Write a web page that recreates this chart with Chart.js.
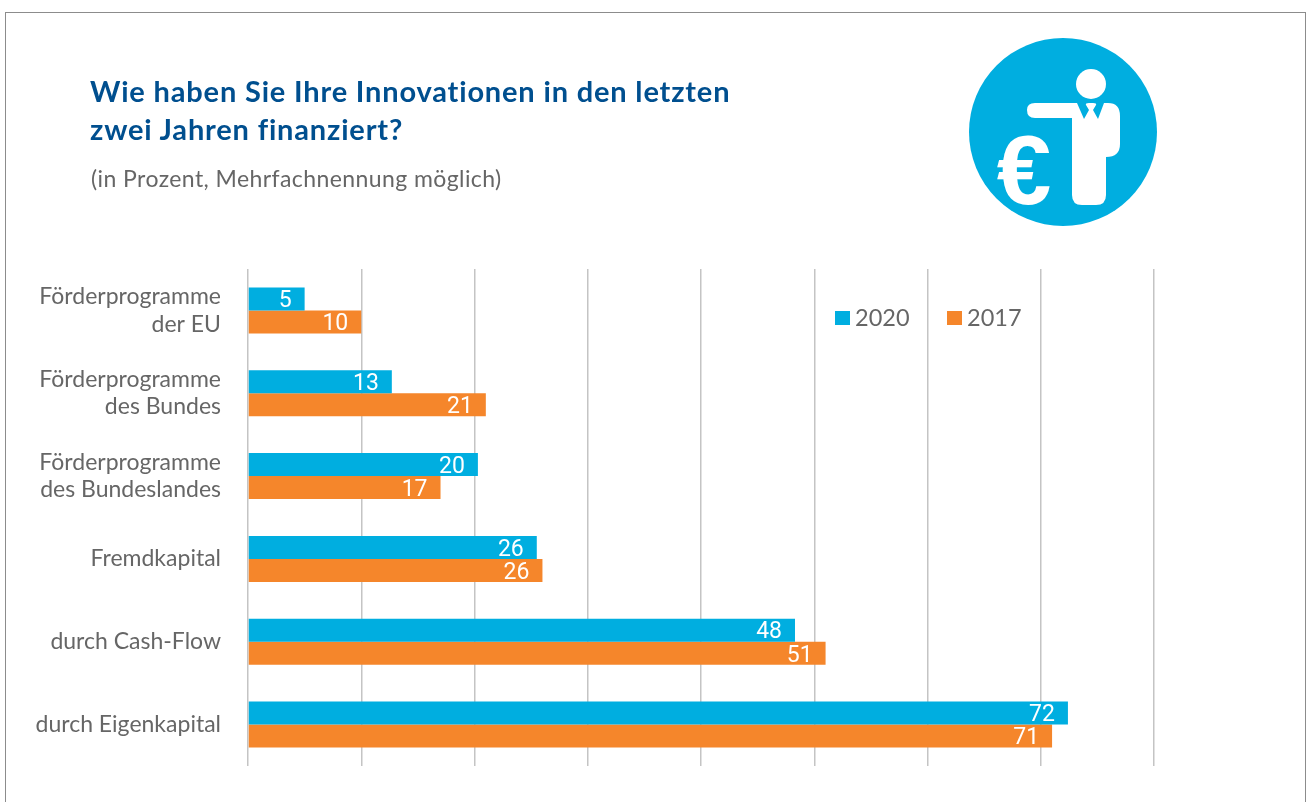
<!DOCTYPE html>
<html lang="de">
<head>
<meta charset="utf-8">
<title>Innovationen</title>
<script src="https://cdn.jsdelivr.net/npm/chart.js@4"></script>
<style>
  html, body { margin: 0; padding: 0; background: #fff; }
  body { width: 1306px; height: 802px; overflow: hidden; position: relative; font-family: Lato, sans-serif; }
  #frame { position: absolute; left: 5px; top: 12px; width: 1301px; height: 800px; border: 1px solid #8c8c8c; box-sizing: border-box; }
  #chart { position: absolute; left: 0; top: 0; }
  .text { position: absolute; white-space: nowrap; }
  #title { left: 90px; top: 72px; font-size: 29px; line-height: 38px; font-weight: 700; color: #004f8f; letter-spacing: 0.83px; }
  #subtitle { left: 91px; top: 163px; font-size: 23px; line-height: 30px; color: #666; letter-spacing: 0.42px; }
  #icon { position: absolute; left: 960px; top: 30px; }
</style>
</head>
<body>
<div id="frame"></div>
<canvas id="chart" width="1306" height="802"></canvas>
<div class="text" id="title">Wie haben Sie Ihre Innovationen in den letzten<br>zwei Jahren finanziert?</div>
<div class="text" id="subtitle">(in Prozent, Mehrfachnennung möglich)</div>
<svg id="icon" width="210" height="205" viewBox="960 30 210 205">
  <circle cx="1063" cy="132" r="94" fill="#00aee0"/>
  <circle cx="1091" cy="84" r="15" fill="#fff"/>
  <path fill="#fff" d="M1035 103H1077L1084 119L1089 110L1086 105Q1085 103 1089 103H1093Q1097 103 1096 105L1093 110L1098 119L1104 103H1108Q1120 103 1120 116V144Q1120 157 1106 157V195Q1106 205 1096 205H1082Q1072 205 1072 195V118H1035Q1027 118 1027 110Q1027 103 1035 103Z"/>
  <text x="1024" y="204" text-anchor="middle" font-family="'Liberation Sans'" font-weight="700" font-size="98" fill="#fff">€</text>
</svg>
<script>
var categories = [['Förderprogramme', 'der EU'], ['Förderprogramme', 'des Bundes'], ['Förderprogramme', 'des Bundeslandes'], 'Fremdkapital', 'durch Cash-Flow', 'durch Eigenkapital'];
var barLengths2020 = [5, 12.7, 20.3, 25.5, 48.3, 72.4];
var barLengths2017 = [10, 21, 17, 26, 51, 71];
var printed2020 = [5, 13, 20, 26, 48, 72];
var printed2017 = [10, 21, 17, 26, 51, 71];
var legendNames = ['2020', '2017'];
var colors = ['#00aee0', '#f5862b'];
var legendX = [835, 947];

// printed numbers inside the bars, right aligned
var valueLabels = {
  id: 'valueLabels',
  afterDatasetsDraw: function (c) {
    var ctx = c.ctx;
    ctx.save();
    ctx.font = '23px Roboto, sans-serif';
    ctx.fillStyle = '#fff';
    ctx.textAlign = 'right';
    ctx.textBaseline = 'middle';
    c.data.datasets.forEach(function (d, s) {
      c.getDatasetMeta(s).data.forEach(function (e, i) {
        ctx.fillText(d.printed[i], e.x - 13, e.y + 2.5);
      });
    });
    ctx.restore();
  }
};

// legend sits inside the plot at a fixed place
var sideLegend = {
  id: 'sideLegend',
  afterDraw: function (c) {
    var ctx = c.ctx;
    ctx.save();
    ctx.font = '23.5px Lato, sans-serif';
    ctx.textBaseline = 'middle';
    ctx.textAlign = 'left';
    legendNames.forEach(function (name, i) {
      ctx.fillStyle = colors[i];
      ctx.fillRect(legendX[i], 311, 15, 14);
      ctx.fillStyle = '#666';
      ctx.fillText(name, legendX[i] + 20, 318);
    });
    ctx.restore();
  }
};

new Chart(document.getElementById('chart'), {
  type: 'bar',
  data: {
    labels: categories,
    datasets: [
      { label: legendNames[0], data: barLengths2020, printed: printed2020, backgroundColor: colors[0], categoryPercentage: 0.556, barPercentage: 1 },
      { label: legendNames[1], data: barLengths2017, printed: printed2017, backgroundColor: colors[1], categoryPercentage: 0.556, barPercentage: 1 }
    ]
  },
  options: {
    indexAxis: 'y',
    responsive: false,
    animation: false,
    layout: { padding: { left: 0, right: 152, top: 269, bottom: 0 } },
    plugins: { legend: { display: false }, title: { display: false }, tooltip: { enabled: false } },
    scales: {
      x: {
        min: 0,
        max: 80,
        ticks: { stepSize: 10, display: false },
        grid: { color: '#c4c4c4', lineWidth: 1.5, drawTicks: false },
        border: { display: false },
        afterFit: function (s) { s.height = 36; }
      },
      y: {
        ticks: { color: '#666', font: { family: 'Lato, sans-serif', size: 23, lineHeight: 1.2 }, padding: 27, crossAlign: 'near' },
        grid: { display: false, drawTicks: false },
        border: { display: false },
        // tick padding would otherwise shrink the plot height
        afterFit: function (s) { s.width = 248; s.paddingTop = 0; s.paddingBottom = 0; }
      }
    }
  },
  plugins: [valueLabels, sideLegend]
});
</script>
</body>
</html>
